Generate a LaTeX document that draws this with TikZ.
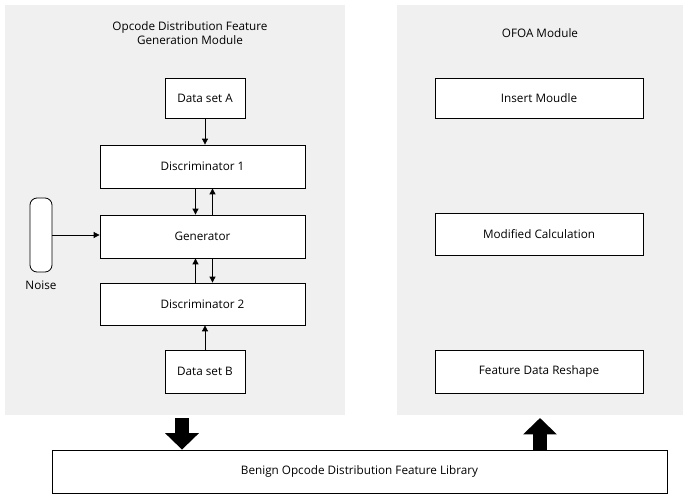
\documentclass[tikz,border=0pt]{standalone}
\usepackage{fontspec}
\setmainfont{Open Sans}
\usetikzlibrary{arrows.meta,positioning,shapes.arrows}

\begin{document}
\begin{tikzpicture}[x=0.03cm, y=-0.03cm, font=\fontsize{10}{12}\selectfont,
    box/.style={draw, fill=white, line width=0.7pt, inner sep=0pt},
    arr/.style={-{Triangle[length=5pt,width=5pt]}, line width=0.7pt},
    panel/.style={fill=gray!12, draw=none}]
    \useasboundingbox (0,0) rectangle (685,500);

    % Panels
    \fill[panel] (5,5) rectangle (345,415);
    \fill[panel] (397,5) rectangle (683,415);
    \node[align=center] (ltitle) at (190,33) {Opcode Distribution Feature\\Generation Module};
    \node (rtitle) at (540,33) {OFOA Module};

    % Left module
    \node[box, minimum width=80*0.03cm, minimum height=40*0.03cm] (dsa) at (205,98) {Data set A};
    \node[box, minimum width=205*0.03cm, minimum height=43*0.03cm] (dis1) at (202.5,166.5) {Discriminator 1};
    \node[box, minimum width=205*0.03cm, minimum height=43*0.03cm] (gen) at (202.5,236.5) {Generator};
    \node[box, minimum width=205*0.03cm, minimum height=42*0.03cm] (dis2) at (202.5,304) {Discriminator 2};
    \node[box, minimum width=80*0.03cm, minimum height=43*0.03cm] (dsb) at (205,371.5) {Data set B};
    \node[box, rounded corners=6pt, minimum width=22*0.03cm, minimum height=74*0.03cm] (noise) at (41,235) {};
    \node[below=4pt of noise] (noiselbl) {Noise};

    % Right module
    \node[box, minimum width=208*0.03cm, minimum height=40*0.03cm] (ins) at (539,98) {Insert Moudle};
    \node[box, minimum width=208*0.03cm, minimum height=42*0.03cm] (mod) at (539,234) {Modified Calculation};
    \node[box, minimum width=208*0.03cm, minimum height=43*0.03cm] (resh) at (539,371.5) {Feature Data Reshape};

    % Library
    \node[box, minimum width=615*0.03cm, minimum height=43*0.03cm] (lib) at (359.5,471.5) {Benign Opcode Distribution Feature Library};

    % Arrows
    \draw[arr] (dsa.south) -- (dsa.south |- dis1.north);
    \draw[arr] (dsb.north) -- (dsb.north |- dis2.south);
    \draw[arr] ([xshift=-7*0.03cm]dis1.south) -- ([xshift=-7*0.03cm]gen.north);
    \draw[arr] ([xshift=10*0.03cm]gen.north) -- ([xshift=10*0.03cm]dis1.south);
    \draw[arr] ([xshift=-7*0.03cm]dis2.north) -- ([xshift=-7*0.03cm]gen.south);
    \draw[arr] ([xshift=10*0.03cm]gen.south) -- ([xshift=10*0.03cm]dis2.north);
    \draw[arr] (noise.east) -- (noise.east -| gen.west);
    \coordinate (dtop) at (182,418);
    \coordinate (ubot) at (540,450);
    \draw[line width=12pt, -{Triangle[length=14pt,width=28pt]}] (dtop) -- (dtop |- lib.north);
    \draw[line width=12pt, -{Triangle[length=14pt,width=28pt]}] (ubot) -- (540,418);
\end{tikzpicture}
\end{document}
